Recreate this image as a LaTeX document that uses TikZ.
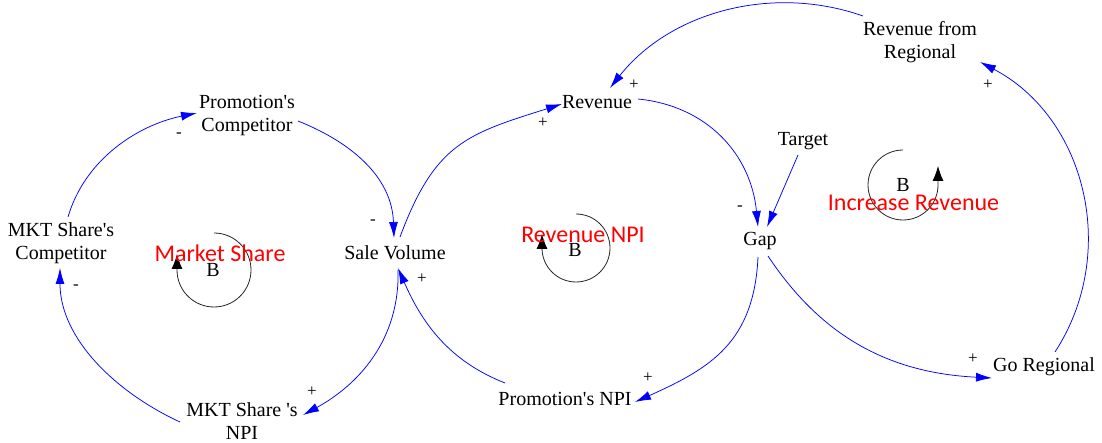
\documentclass[tikz,border=0pt]{standalone}
\usepackage{fontspec}
\setmainfont{Liberation Serif}
\newfontfamily\calibri{Carlito}
\usetikzlibrary{arrows.meta}

\newcommand{\apos}{\textquotesingle}

\tikzset{
  var/.style={align=center, inner sep=0pt, font=\fontsize{20}{23}\selectfont},
  sign/.style={inner sep=0pt, font=\fontsize{17}{17}\selectfont},
  link/.style={draw=blue, line width=0.75pt, -{Latex[length=16pt,width=9pt]}},
  loopname/.style={inner sep=0pt, text=red, font=\calibri\fontsize{24}{24}\selectfont},
  loopmark/.style={inner sep=0pt, font=\fontsize{20}{20}\selectfont},
  loopline/.style={draw=black!85, line width=0.8pt, -{Latex[length=15pt,width=11pt,color=black]}}
}

\begin{document}
\begin{tikzpicture}[x=1pt,y=-1pt]
\useasboundingbox (0,0) rectangle (1102,443);

% variables
\node[var] (pc)   at (247,116)   {Promotion\apos s\\Competitor};
\node[var] (msc)  at (61,243.5)  {MKT Share\apos s\\Competitor};
\node[var] (sv)   at (395,253)   {Sale Volume};
\node[var] (msn)  at (242,421.5) {MKT Share \apos s\\NPI};
\node[var] (rev)  at (597,102.5) {Revenue};
\node[var] (pnpi) at (565,399)   {Promotion\apos s NPI};
\node[var] (gap)  at (760,241.5) {Gap};
\node[var] (tgt)  at (803,141)   {Target};
\node[var] (rfr)  at (920,42.5)  {Revenue from\\Regional};
\node[var] (gr)   at (1044,366.5) {Go Regional};

% causal links
\draw[link] ([shift={(7,-26.5)}]msc.center) .. controls +(17,-58) and +(-59,12) .. ([shift={(-50,-3)}]pc.center);
\draw[link] ([shift={(51,5)}]pc.center) .. controls +(55,22) and +(-2,-60) .. ([shift={(-1,-15)}]sv.center);
\draw[link] ([shift={(3,17)}]sv.center) .. controls +(2,70) and +(55,-30) .. ([shift={(61,-6.5)}]msn.center);
\draw[link] ([shift={(-62,0.5)}]msn.center) .. controls +(-65,-30) and +(0,70) .. ([shift={(-1,24.5)}]msc.center);
\draw[link] ([shift={(5,-16)}]sv.center) .. controls +(35,-94) and +(-95,30) .. ([shift={(-35,1.5)}]rev.center);
\draw[link] ([shift={(41,-3.5)}]rev.center) .. controls +(70,7) and +(-7,-72) .. ([shift={(-2,-14.5)}]gap.center);
\draw[link] ([shift={(-5,14)}]tgt.center) -- ([shift={(7,-14.5)}]gap.center);
\draw[link] ([shift={(-2,15.5)}]gap.center) .. controls +(-4,85) and +(76,-34) .. ([shift={(70,3)}]pnpi.center);
\draw[link] ([shift={(-60,-16)}]pnpi.center) .. controls +(-56,-22) and +(24,55) .. ([shift={(3,15)}]sv.center);
\draw[link] ([shift={(8,14.5)}]gap.center) .. controls +(55,83) and +(-100,-5) .. ([shift={(-52,11.5)}]gr.center);
\draw[link] ([shift={(11,-14.5)}]gr.center) .. controls +(65,-100) and +(105,55) .. ([shift={(60,19.5)}]rfr.center);
\draw[link] ([shift={(-57,-26.5)}]rfr.center) .. controls +(-91,-32) and +(60,-76) .. ([shift={(13,-14.5)}]rev.center);

% polarities
\node[sign] (s1)  at (179,135)   {-};
\node[sign] (s2)  at (373,222)   {-};
\node[sign] (s3)  at (312,392)   {+};
\node[sign] (s4)  at (76,287)    {-};
\node[sign] (s5)  at (543,123)   {+};
\node[sign] (s6)  at (740,208)   {-};
\node[sign] (s7)  at (648,378)   {+};
\node[sign] (s8)  at (422,279)   {+};
\node[sign] (s9)  at (973,359)   {+};
\node[sign] (s10) at (988,85)    {+};
\node[sign] (s11) at (634,85)    {+};

% loop markers
\node[loopmark] (bms) at (213,270) {B};
\node[loopmark] (brn) at (575,250) {B};
\node[loopmark] (bir) at (903,185) {B};
\draw[loopline] ([shift={(1,-37)}]bms.center) arc[start angle=90, end angle=-180, radius=37pt] -- ++(0,-16);
\draw[loopline] ([shift={(1,-36)}]brn.center) arc[start angle=90, end angle=-180, radius=34pt] -- ++(0,-14);
\draw[loopline] ([shift={(0,-35)}]bir.center) arc[start angle=90, end angle=360, radius=35pt] -- ++(0,-19);

% loop names
\node[loopname] (lms) at (220,253)   {Market Share};
\node[loopname] (lrn) at (583,235)   {Revenue NPI};
\node[loopname] (lir) at (913.5,203) {Increase Revenue};
\end{tikzpicture}
\end{document}
